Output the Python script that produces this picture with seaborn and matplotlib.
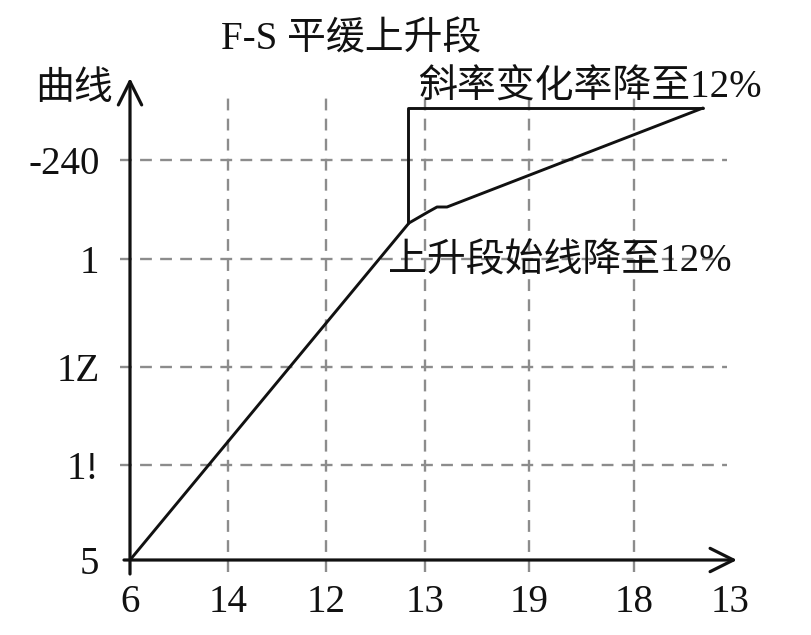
import matplotlib
matplotlib.use("Agg")
import matplotlib.pyplot as plt
import seaborn as sns

# ── Data (axis units: ~100 px per unit in the reference) ────────────────────
x_tick_pos = [0, 0.98, 1.96, 2.95, 3.99, 5.04, 6.0]
x_tick_labels = ["6", "14", "12", "13", "19", "18", "13"]
y_tick_pos = [0, 0.95, 1.93, 3.01, 4.0]
y_tick_labels = ["5", "1!", "1Z", "1", "-240"]

curve_x = [0, 2.79, 2.98, 3.07, 3.17, 5.73]
curve_y = [0, 3.37, 3.48, 3.53, 3.53, 4.52]

bracket_x = [2.78, 2.78, 5.73]
bracket_y = [3.37, 4.52, 4.52]

title_text = "F-S 平缓上升段"
y_name = "曲线"
note_top = "斜率变化率降至12%"
note_bottom = "上升段始线降至12%"

# ── Style ────────────────────────────────────────────────────────────────────
sns.set_theme(style="white")
plt.rcParams["font.family"] = ["Liberation Serif", "Noto Sans CJK SC", "DejaVu Sans"]
FS = 28

fig = plt.figure(figsize=(8.11, 6.35), dpi=100)
W, H = 811, 635
x0, y0 = 130, 560
ax = fig.add_axes([x0 / W, (H - y0) / H, 6.2 * 100 / W, 4.9 * 100 / H])
ax.set_xlim(0, 6.2)
ax.set_ylim(0, 4.9)
for s in ax.spines.values():
    s.set_visible(False)

# dashed grid
grid_kw = dict(color="#8c8c8c", linestyle=(0, (5, 3.5)), linewidth=1.7, zorder=1)
ax.vlines(x_tick_pos[1:6], -0.12, 4.68, clip_on=False, **grid_kw)
ax.hlines(y_tick_pos[1:], -0.1, 5.97, clip_on=False, **grid_kw)

# axes with arrows
arrow_kw = dict(arrowstyle="->,head_length=0.4,head_width=0.2",
                lw=2.3, color="#111111", mutation_scale=42, shrinkA=0, shrinkB=0)
ax.annotate("", xy=(6.07, 0), xytext=(-0.06, 0), arrowprops=arrow_kw,
            annotation_clip=False, zorder=3)
ax.annotate("", xy=(0, 4.82), xytext=(0, -0.14), arrowprops=arrow_kw,
            annotation_clip=False, zorder=3)

# curve and bracket (estimator=None: keep the points as given)
sns.lineplot(x=curve_x, y=curve_y, sort=False, estimator=None, ax=ax,
             color="#111111", linewidth=2.1, zorder=4)
sns.lineplot(x=bracket_x, y=bracket_y, sort=False, estimator=None, ax=ax,
             color="#111111", linewidth=2.1, zorder=4)

# ticks
ax.set_xticks(x_tick_pos, x_tick_labels)
ax.set_yticks(y_tick_pos, y_tick_labels)
ax.tick_params(axis="both", length=0, labelsize=FS, colors="#111111")
ax.tick_params(axis="x", pad=17)
ax.tick_params(axis="y", pad=22)
ax.set_xlabel("")
ax.set_ylabel("")

# texts
ax.text(2.21, 5.2, title_text, fontsize=FS, ha="center", va="center",
        color="#111111", clip_on=False)
ax.text(-0.56, 4.7, y_name, fontsize=FS, ha="center", va="center",
        color="#111111", clip_on=False)
ax.text(2.88, 4.72, note_top, fontsize=FS, ha="left", va="center",
        color="#111111", clip_on=False)
ax.text(2.58, 2.98, note_bottom, fontsize=FS, ha="left", va="center",
        color="#111111", clip_on=False)

fig.savefig("out.png", dpi=100, facecolor="white")
